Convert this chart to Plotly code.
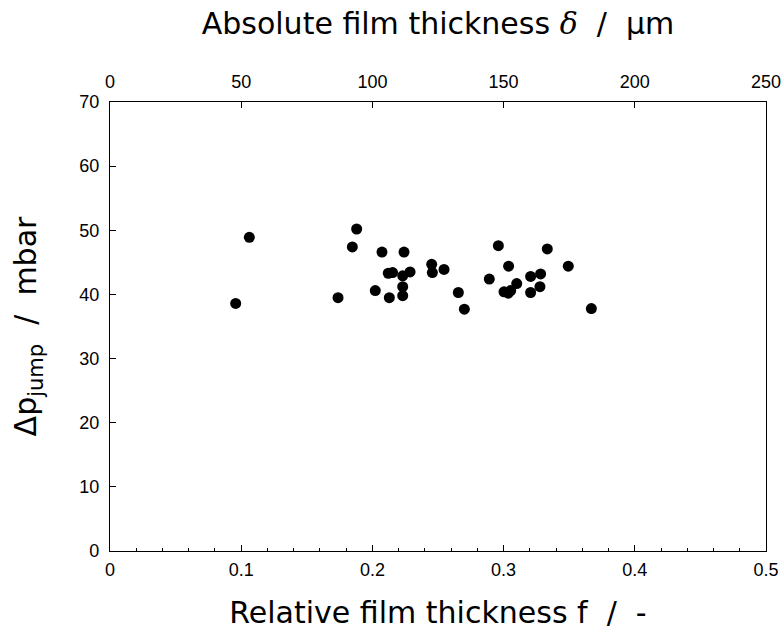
import plotly.graph_objects as go

# Relative film thickness f (-) and pressure jump (mbar)
rel_thickness = [0.0958, 0.1062, 0.1738, 0.1847, 0.1880, 0.2022, 0.2073, 0.2121, 0.2154,
                 0.2129, 0.2241, 0.2231, 0.2287, 0.2231, 0.2231, 0.2452, 0.2457, 0.2546,
                 0.2655, 0.2701, 0.2891, 0.2960, 0.3038, 0.3003, 0.3036, 0.3054, 0.3100,
                 0.3206, 0.3206, 0.3282, 0.3277, 0.3333, 0.3493, 0.3669]
dp_jump = [38.6, 48.9, 39.5, 47.4, 50.2, 40.6, 46.6, 43.3, 43.4,
           39.5, 46.6, 42.9, 43.5, 41.2, 39.8, 44.7, 43.4, 43.9,
           40.3, 37.7, 42.4, 47.6, 44.4, 40.4, 40.2, 40.6, 41.7,
           42.8, 40.3, 43.2, 41.2, 47.1, 44.4, 37.8]

x_ticks = [0, 0.1, 0.2, 0.3, 0.4, 0.5]
x_ticklabels = ["0", "0.1", "0.2", "0.3", "0.4", "0.5"]
top_ticks = [0, 50, 100, 150, 200, 250]
y_ticks = [0, 10, 20, 30, 40, 50, 60, 70]

TICK_FONT = "Liberation Sans, Arial, sans-serif"
TITLE_FONT = "DejaVu Sans, sans-serif"
SLASH = "&nbsp;&nbsp;/&nbsp;&nbsp;"

fig = go.Figure()
fig.add_trace(go.Scatter(
    x=rel_thickness, y=dp_jump, mode="markers",
    marker=dict(color="black", size=11, line=dict(width=0)),
    showlegend=False, hoverinfo="x+y",
))
# invisible trace keeps the absolute-thickness axis alive
fig.add_trace(go.Scatter(
    x=[top_ticks[0], top_ticks[-1]], y=[0, 0], xaxis="x2", mode="markers",
    marker=dict(opacity=0), showlegend=False, hoverinfo="skip",
))

axis_common = dict(
    showgrid=False, zeroline=False, showline=True, linecolor="black", linewidth=1.3,
    ticks="inside", tickcolor="black", tickwidth=1.1, ticklen=6, automargin=False,
    tickfont=dict(family=TICK_FONT, size=18, color="black"),
)
title_font = dict(family=TITLE_FONT, size=30, color="black")

fig.update_layout(
    width=784, height=639,
    margin=dict(l=110, r=18, t=102, b=88),
    plot_bgcolor="white", paper_bgcolor="white",
    xaxis=dict(
        **axis_common, range=[0, 0.5], tickvals=x_ticks, ticktext=x_ticklabels,
        ticklabelstandoff=2,
        minor=dict(dtick=0.02, ticks="inside", ticklen=3, tickcolor="black", tickwidth=1),
        title=dict(text="Relative film thickness f" + SLASH + "-",
                   font=title_font, standoff=23),
    ),
    xaxis2=dict(
        **axis_common, range=[0, 250], tickvals=top_ticks, overlaying="x", side="top",
        ticklabelstandoff=6,
        title=dict(text="Absolute film thickness "
                        "<span style='font-family:DejaVu Serif'><i>δ</i></span>"
                        + SLASH + "µm",
                   font=title_font, standoff=28),
    ),
    yaxis=dict(
        **axis_common, range=[0, 70], tickvals=y_ticks, mirror=True,
        ticklabelstandoff=6,
        title=dict(text="Δp<sub>jump</sub>" + SLASH + "mbar",
                   font=title_font, standoff=33),
    ),
)

fig.write_html("out.html")
